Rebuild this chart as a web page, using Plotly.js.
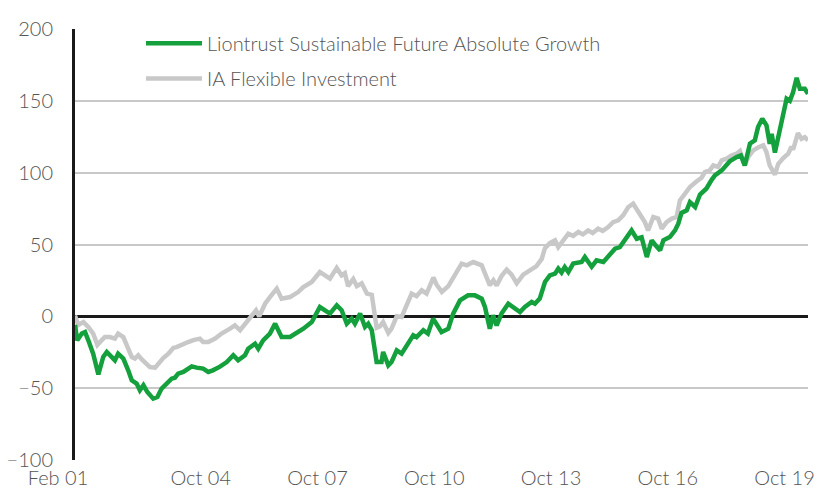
<!DOCTYPE html>
<html>
<head>
<meta charset="utf-8">
<script src="https://cdn.plot.ly/plotly-3.0.1.min.js"></script>
<style>html,body{margin:0;padding:0;background:#fff;}#chart{width:821px;height:489px;}</style>
</head>
<body>
<div id="chart"></div>
<script>
// x = months since Feb 2001
const fundName = "Liontrust Sustainable Future Absolute Growth";
const sectorName = "IA Flexible Investment";

const fundMonths = [0,0.7,2.1,3.1,4.1,5.6,7.2,8.7,9.8,11.3,12.3,13.3,14.9,16.4,17.5,19.0,20.0,21.1,22.3,24.1,25.4,26.7,28.3,29.8,30.8,31.8,33.4,34.9,36.0,37.5,39.5,41.1,42.5,44.7,46.8,48.8,50.3,52.4,53.4,55.5,56.5,58.0,60.1,61.7,63.7,66.3,68.8,70.4,73.0,75.5,78.6,80.7,82.2,83.8,85.3,86.3,87.9,89.4,90.4,91.5,93.0,94.5,95.0,96.6,97.6,99.2,100.7,102.7,104.3,105.3,107.4,108.8,110.4,113.0,115.1,116.6,118.7,121.2,123.3,125.4,126.4,127.9,128.9,130.0,131.5,133.6,135.1,137.2,138.7,140.8,141.8,143.3,144.9,146.4,148.0,149.0,150.0,151.0,152.1,153.6,156.2,157.2,159.3,160.8,162.9,164.9,166.5,168.0,170.1,171.6,173.2,174.7,176.3,177.8,178.8,180.4,181.4,183.4,185.0,186.0,187.0,188.6,189.6,191.2,192.7,194.7,196.3,197.3,199.4,200.4,201.9,204.0,205.3,206.5,208.1,209.6,210.6,211.9,213.2,214.2,214.8,215.8,217.3,218.3,219.4,220.4,221.4,222.5,223.5,225.0,226.0];
const fundValues = [-6,-16.7,-12.0,-10.9,-16.7,-26.0,-40.4,-28.3,-24.8,-28.3,-30.6,-26.0,-29.4,-37.6,-44.5,-46.8,-51.5,-48.0,-52.7,-57.3,-56.1,-50.3,-46.8,-43.4,-42.7,-39.9,-38.7,-36.4,-34.8,-35.7,-36.4,-38.7,-37.6,-35,-31.8,-27.1,-30.6,-27.1,-22.5,-19,-22.5,-16.7,-12,-5.1,-14.4,-14.4,-10.9,-8.6,-4.0,6.5,1.9,7.7,4.2,-5.1,-1.6,-5.1,1.9,-7.4,-5.1,-9.7,-31.8,-31.8,-24.8,-34.1,-31.8,-23.7,-26,-19,-13.2,-14.5,-9.7,-12,-1.6,-10.9,-8.6,1.9,11.1,14.6,14.6,12.3,6.5,-8.6,0.7,-6.3,1.9,8.8,6.5,3,6.5,10,8.8,12.3,23.9,28.5,29.7,33.2,30.5,34.3,30.8,36.7,37.8,41.3,34.5,39,37.8,42.4,47.1,48.2,55.2,59.8,54,55,41.3,52.9,50,45.9,52.9,55.2,59.8,64.5,72,73.8,79.5,76.1,84.8,89,95,98.1,101.6,103.9,108,110.9,112,105,120.2,122.5,131.7,137.6,133,120,127,114,130,137.5,151.5,150,156,166,158.4,158.4,155];

const sectorMonths = [0,1.0,2.6,4.1,5.6,6.9,8.2,9.2,10.8,12.3,13.3,14.9,16.4,17.5,18.5,19.5,20.6,21.6,23.1,24.7,25.7,27.2,28.8,30.3,31.3,32.9,34.9,36.5,38.5,39.5,41.1,43.2,45.2,47.8,49.3,50.9,52.9,54.5,55.8,56.8,58.6,60.1,62.2,63.7,66.3,68.8,70.4,73.0,75.5,77.1,78.6,80.7,82.2,83.2,84.2,85.8,86.9,88.4,90.0,91.5,93.0,94.0,95.0,96.6,97.6,99.2,100.7,102.2,103.8,105.3,106.9,108.4,110.5,111.5,113.1,115.1,117.2,119.2,120.8,122.8,125.4,126.9,127.9,129.0,130.0,131.5,133.1,134.6,136.2,138.2,140.8,142.3,143.9,144.9,146.4,148.0,149.0,150.6,152.1,153.6,155.2,156.6,158.2,159.6,161.3,162.7,164.4,165.9,167.5,169.0,170.6,172.1,173.2,174.2,175.7,176.7,178.3,179.8,180.9,182.4,184.0,185.5,186.5,188.1,189.6,191.7,193.2,194.2,195.7,196.8,198.3,199.4,200.9,202.4,204.0,205.0,206.5,207.6,209.1,210.6,212.2,213.2,214.2,215.8,216.8,218.3,219.9,220.9,221.4,222.9,224.0,225.0,226.0];
const sectorValues = [0.5,-6,-4,-7.4,-12,-20,-16.7,-14.4,-14.4,-15.5,-12,-14.4,-22.5,-28.3,-29.4,-27.1,-30,-31.8,-35.3,-35.7,-32.9,-29,-26,-22,-21.4,-20.2,-17.9,-16.5,-15.5,-17.9,-17.9,-15.5,-12,-8.6,-6.3,-9.7,-4,0.7,4.2,0,8.8,13.4,19.3,12.3,13.4,16.9,20.4,23.9,30.8,28.5,26.2,33.7,28.5,30,21,26,21,23,15.8,15,-8,-7,-4,-11.5,-8.5,0,-0.5,7.5,15.8,14,18.1,15.8,27,22,17,21,28.5,36.7,35.5,37.8,35.5,27,21.6,25.1,21.5,28,32.5,29,23,29,33,35,40,47.5,51,52.9,48.2,53,57.5,56,58.7,57,59.8,58,61,59.5,62.1,65.6,66.8,70.3,76.1,78.4,74.9,71.5,65.6,59.8,69.1,68,61,65.6,68,69.1,80.7,85.4,90,94,96.5,100.4,101.6,105,104,108.6,109.7,112,113.2,115,105.1,111,115.5,117.5,119,114.3,105,98.7,106,110,113.2,118,116,127.5,123.6,124.7,122.5];

const tickMonths = [0,44,80,116,152,188,224];
const tickLabels = ["Feb 01","Oct 04","Oct 07","Oct 10","Oct 13","Oct 16","Oct 19"];
const yTicks = [-100,-50,0,50,100,150,200];

const FONT = "Lato, 'Open Sans', sans-serif";
const TXT = "#555555";

const traces = [
  {
    x: sectorMonths, y: sectorValues, name: sectorName, type: "scatter", mode: "lines",
    line: {color: "#c8c8c8", width: 4.5}, legend: "legend2"
  },
  {
    x: fundMonths, y: fundValues, name: fundName, type: "scatter", mode: "lines",
    line: {color: "#14a03c", width: 4.5}, legend: "legend"
  }
];

const legendStyle = {
  font: {family: FONT, size: 20, color: TXT, weight: 300},
  bgcolor: "rgba(0,0,0,0)", borderwidth: 0, itemwidth: 56,
  xanchor: "left", yanchor: "middle", orientation: "v"
};

const layout = {
  width: 821, height: 489,
  margin: {l: 75, r: 13, t: 29, b: 29},
  paper_bgcolor: "#fff", plot_bgcolor: "#fff",
  showlegend: true,
  legend: Object.assign({}, legendStyle, {x: 0.09, y: 0.967}),
  legend2: Object.assign({}, legendStyle, {x: 0.09, y: 0.885}),
  xaxis: {
    range: [0, 226], tickvals: tickMonths, ticktext: tickLabels,
    showgrid: false, zeroline: false, showline: false, ticks: "",
    ticklabelshift: -17, ticklabelstandoff: 4,
    tickfont: {family: FONT, size: 20, color: TXT, weight: 300},
    automargin: false, fixedrange: true
  },
  yaxis: {
    range: [-100, 200], tickvals: yTicks,
    showgrid: true, gridcolor: "#c8c8c8", gridwidth: 2,
    zeroline: true, zerolinecolor: "#1a1a1a", zerolinewidth: 3,
    showline: true, linecolor: "#1a1a1a", linewidth: 3,
    ticks: "", ticklabelstandoff: 15,
    tickfont: {family: FONT, size: 20, color: TXT, weight: 300},
    automargin: false, fixedrange: true
  },
  hovermode: false
};

Plotly.newPlot("chart", traces, layout, {displayModeBar: false, staticPlot: true});
</script>
</body>
</html>
